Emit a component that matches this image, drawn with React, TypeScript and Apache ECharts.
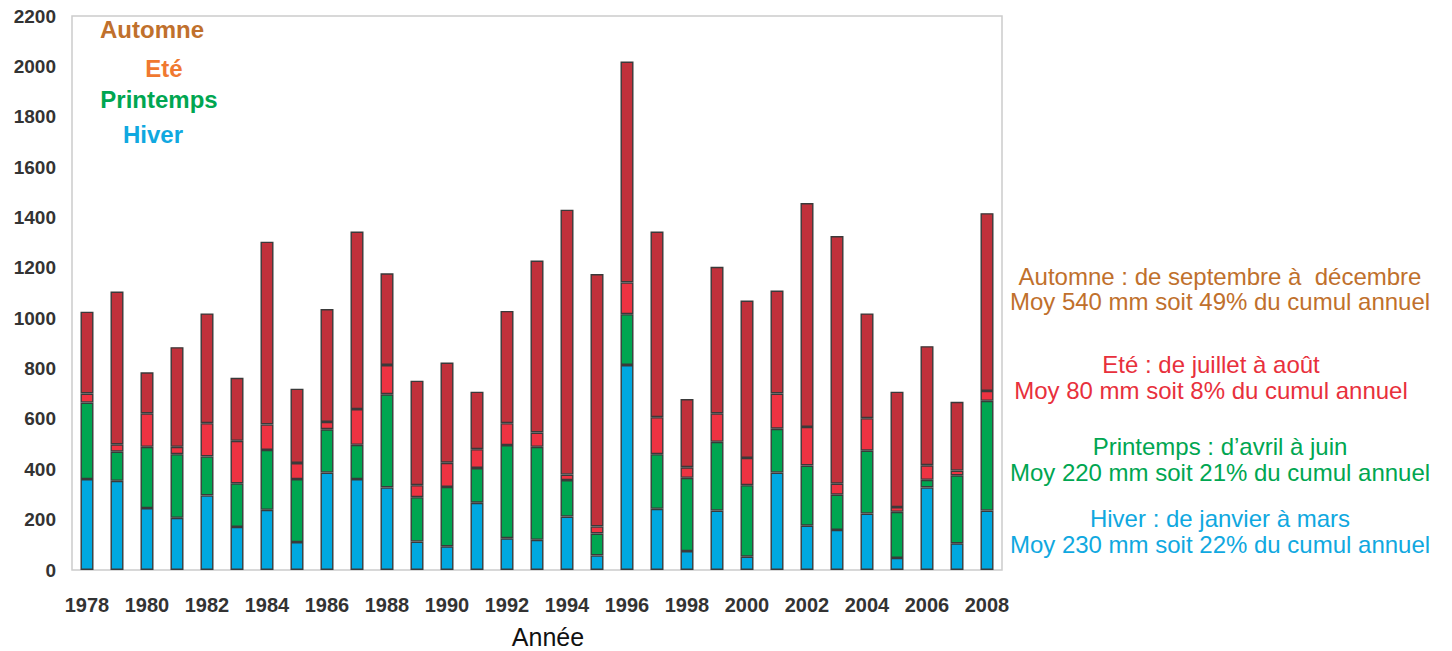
import React, { useEffect, useRef } from "react";
import * as echarts from "echarts";

const years = [
  "1978", "1979", "1980", "1981", "1982", "1983", "1984", "1985", "1986", "1987",
  "1988", "1989", "1990", "1991", "1992", "1993", "1994", "1995", "1996", "1997",
  "1998", "1999", "2000", "2001", "2002", "2003", "2004", "2005", "2006", "2007", "2008",
];

const hiver = [361, 354, 246, 207, 296, 171, 239, 111, 387, 361, 328, 113, 94, 267, 126, 120, 212, 58, 814, 243, 75, 236, 53, 387, 176, 159, 224, 48, 328, 106, 236];
const printemps = [304, 116, 243, 253, 155, 173, 238, 250, 172, 136, 370, 176, 236, 138, 370, 369, 145, 87, 202, 217, 291, 273, 284, 174, 239, 140, 250, 183, 30, 270, 436];
const ete = [36, 29, 133, 29, 132, 169, 101, 64, 29, 142, 116, 48, 96, 75, 87, 57, 22, 28, 126, 147, 42, 113, 108, 140, 153, 44, 129, 19, 58, 19, 39];
const automne = [325, 607, 163, 396, 436, 250, 726, 295, 448, 705, 364, 415, 398, 228, 446, 683, 1052, 1002, 877, 737, 271, 582, 625, 409, 889, 983, 416, 458, 473, 273, 706];

const seriesNames = ["Hiver", "Printemps", "Eté", "Automne"];
const barColors = ["#00a8e0", "#00a651", "#ee3342", "#c1313b"];

const legendTexts = ["Automne", "Eté", "Printemps", "Hiver"];
const legendColors = ["#c0702c", "#f07830", "#00a651", "#10a8e0"];

const noteLines = [
  "Automne : de septembre à  décembre",
  "Moy 540 mm soit 49% du cumul annuel",
  "Eté : de juillet à août",
  "Moy 80 mm soit 8% du cumul annuel",
  "Printemps : d’avril à juin",
  "Moy 220 mm soit 21% du cumul annuel",
  "Hiver : de janvier à mars",
  "Moy 230 mm soit 22% du cumul annuel",
];
const noteColors = ["#c0702c", "#c0702c", "#e8303c", "#e8303c", "#00a651", "#00a651", "#10a8e0", "#10a8e0"];

export default function App() {
  const ref = useRef<HTMLDivElement>(null);
  useEffect(() => {
    if (!ref.current) return;
    const chart = echarts.init(ref.current, null, { renderer: "svg" });
    const data = [hiver, printemps, ete, automne];

    const legendPos = [
      { x: 152, y: 29 },
      { x: 164, y: 68 },
      { x: 159, y: 99 },
      { x: 153, y: 134 },
    ];
    const notePos = [
      { x: 1220, y: 276 },
      { x: 1220, y: 301 },
      { x: 1211, y: 364 },
      { x: 1211, y: 390 },
      { x: 1220, y: 446 },
      { x: 1220, y: 472 },
      { x: 1220, y: 518 },
      { x: 1220, y: 544 },
    ];

    const graphics: any[] = [];
    legendTexts.forEach((t, i) => {
      graphics.push({
        type: "text",
        x: legendPos[i].x,
        y: legendPos[i].y,
        style: {
          text: t,
          fill: legendColors[i],
          font: "bold 24px 'Liberation Sans', Arial, sans-serif",
          textAlign: "center",
          textVerticalAlign: "middle",
        },
      });
    });
    noteLines.forEach((t, i) => {
      graphics.push({
        type: "text",
        x: notePos[i].x,
        y: notePos[i].y,
        style: {
          text: t,
          fill: noteColors[i],
          font: "24px 'Liberation Sans', Arial, sans-serif",
          textAlign: "center",
          textVerticalAlign: "middle",
        },
      });
    });
    graphics.push({
      type: "text",
      x: 548,
      y: 637,
      style: {
        text: "Année",
        fill: "#111",
        font: "25px 'Liberation Sans', Arial, sans-serif",
        textAlign: "center",
        textVerticalAlign: "middle",
      },
    });

    chart.setOption({
      animation: false,
      backgroundColor: "#fff",
      grid: {
        left: 72,
        right: 450,
        top: 16,
        bottom: 81,
        show: true,
        borderColor: "#cccccc",
        borderWidth: 1.5,
      },
      xAxis: {
        type: "category",
        data: years,
        axisLine: { show: false },
        axisTick: { show: false },
        axisLabel: {
          interval: 1,
          margin: 25,
          color: "#333",
          fontWeight: "bold",
          fontSize: 20,
          fontFamily: "'Liberation Sans', Arial, sans-serif",
        },
      },
      yAxis: {
        type: "value",
        min: 0,
        max: 2200,
        interval: 200,
        axisLine: { show: false },
        axisTick: { show: false },
        splitLine: { show: false },
        axisLabel: {
          margin: 16,
          color: "#333",
          fontWeight: "bold",
          fontSize: 19,
          fontFamily: "'Liberation Sans', Arial, sans-serif",
          formatter: (v: number) => String(v),
        },
      },
      series: seriesNames.map((name, i) => ({
        name,
        type: "bar",
        stack: "total",
        barWidth: 13,
        data: data[i],
        itemStyle: {
          color: barColors[i],
          borderColor: "#3a3a3a",
          borderWidth: 1.4,
        },
      })),
      graphic: graphics,
    });
    return () => chart.dispose();
  }, []);
  return (
    <div
      ref={ref}
      style={{ position: "fixed", left: 0, top: 0, width: 1452, height: 651 }}
    />
  );
}
